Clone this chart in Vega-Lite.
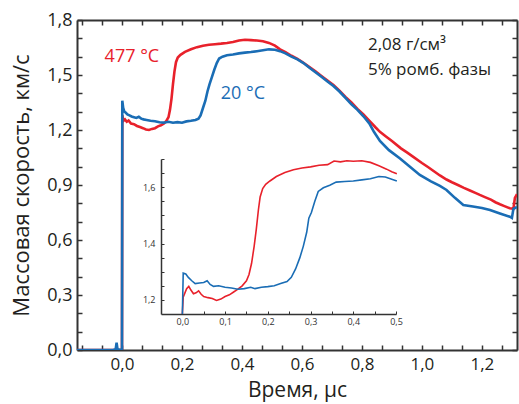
{
  "$schema": "https://vega.github.io/schema/vega-lite/v6.json",
  "width": 440,
  "height": 330,
  "autosize": {"type": "none"},
  "padding": {"left": 77, "top": 20, "right": 2, "bottom": 54},
  "background": "white",
  "config": {"view": {"stroke": null}, "font": "Open Sans"},
  "datasets": {
    "main": [
      {"t": -0.15, "v": 0, "s": "477 °C"}, {"t": -0.003, "v": 0, "s": "477 °C"}, {"t": 0.0, "v": 0, "s": "477 °C"},
      {"t": 0.001, "v": 1.28, "s": "477 °C"}, {"t": 0.005, "v": 1.25, "s": "477 °C"}, {"t": 0.01, "v": 1.258, "s": "477 °C"},
      {"t": 0.016, "v": 1.245, "s": "477 °C"}, {"t": 0.022, "v": 1.252, "s": "477 °C"}, {"t": 0.03, "v": 1.235, "s": "477 °C"},
      {"t": 0.04, "v": 1.232, "s": "477 °C"}, {"t": 0.05, "v": 1.222, "s": "477 °C"}, {"t": 0.06, "v": 1.216, "s": "477 °C"},
      {"t": 0.07, "v": 1.21, "s": "477 °C"}, {"t": 0.08, "v": 1.203, "s": "477 °C"}, {"t": 0.09, "v": 1.2, "s": "477 °C"},
      {"t": 0.1, "v": 1.206, "s": "477 °C"}, {"t": 0.11, "v": 1.21, "s": "477 °C"}, {"t": 0.12, "v": 1.22, "s": "477 °C"},
      {"t": 0.13, "v": 1.226, "s": "477 °C"}, {"t": 0.14, "v": 1.235, "s": "477 °C"}, {"t": 0.148, "v": 1.25, "s": "477 °C"},
      {"t": 0.155, "v": 1.27, "s": "477 °C"}, {"t": 0.16, "v": 1.31, "s": "477 °C"}, {"t": 0.165, "v": 1.37, "s": "477 °C"},
      {"t": 0.17, "v": 1.45, "s": "477 °C"}, {"t": 0.175, "v": 1.52, "s": "477 °C"}, {"t": 0.18, "v": 1.57, "s": "477 °C"},
      {"t": 0.186, "v": 1.595, "s": "477 °C"}, {"t": 0.195, "v": 1.61, "s": "477 °C"}, {"t": 0.21, "v": 1.626, "s": "477 °C"},
      {"t": 0.23, "v": 1.64, "s": "477 °C"}, {"t": 0.25, "v": 1.652, "s": "477 °C"}, {"t": 0.27, "v": 1.66, "s": "477 °C"},
      {"t": 0.29, "v": 1.665, "s": "477 °C"}, {"t": 0.31, "v": 1.668, "s": "477 °C"}, {"t": 0.33, "v": 1.671, "s": "477 °C"},
      {"t": 0.35, "v": 1.675, "s": "477 °C"}, {"t": 0.37, "v": 1.68, "s": "477 °C"}, {"t": 0.39, "v": 1.688, "s": "477 °C"},
      {"t": 0.41, "v": 1.692, "s": "477 °C"}, {"t": 0.43, "v": 1.69, "s": "477 °C"}, {"t": 0.45, "v": 1.688, "s": "477 °C"},
      {"t": 0.47, "v": 1.684, "s": "477 °C"}, {"t": 0.49, "v": 1.675, "s": "477 °C"}, {"t": 0.51, "v": 1.66, "s": "477 °C"},
      {"t": 0.527, "v": 1.64, "s": "477 °C"}, {"t": 0.545, "v": 1.625, "s": "477 °C"}, {"t": 0.565, "v": 1.605, "s": "477 °C"},
      {"t": 0.585, "v": 1.588, "s": "477 °C"}, {"t": 0.605, "v": 1.567, "s": "477 °C"}, {"t": 0.625, "v": 1.543, "s": "477 °C"},
      {"t": 0.645, "v": 1.52, "s": "477 °C"}, {"t": 0.665, "v": 1.495, "s": "477 °C"}, {"t": 0.685, "v": 1.47, "s": "477 °C"},
      {"t": 0.705, "v": 1.445, "s": "477 °C"}, {"t": 0.725, "v": 1.415, "s": "477 °C"}, {"t": 0.745, "v": 1.38, "s": "477 °C"},
      {"t": 0.765, "v": 1.35, "s": "477 °C"}, {"t": 0.785, "v": 1.315, "s": "477 °C"}, {"t": 0.805, "v": 1.285, "s": "477 °C"},
      {"t": 0.825, "v": 1.25, "s": "477 °C"}, {"t": 0.845, "v": 1.215, "s": "477 °C"}, {"t": 0.86, "v": 1.19, "s": "477 °C"},
      {"t": 0.88, "v": 1.165, "s": "477 °C"}, {"t": 0.9, "v": 1.14, "s": "477 °C"}, {"t": 0.93, "v": 1.1, "s": "477 °C"},
      {"t": 0.95, "v": 1.078, "s": "477 °C"}, {"t": 0.97, "v": 1.055, "s": "477 °C"}, {"t": 1.0, "v": 1.02, "s": "477 °C"},
      {"t": 1.02, "v": 0.998, "s": "477 °C"}, {"t": 1.04, "v": 0.975, "s": "477 °C"}, {"t": 1.06, "v": 0.952, "s": "477 °C"},
      {"t": 1.082, "v": 0.93, "s": "477 °C"}, {"t": 1.1, "v": 0.915, "s": "477 °C"}, {"t": 1.12, "v": 0.9, "s": "477 °C"},
      {"t": 1.14, "v": 0.884, "s": "477 °C"}, {"t": 1.16, "v": 0.87, "s": "477 °C"}, {"t": 1.18, "v": 0.856, "s": "477 °C"},
      {"t": 1.193, "v": 0.846, "s": "477 °C"}, {"t": 1.21, "v": 0.834, "s": "477 °C"}, {"t": 1.23, "v": 0.82, "s": "477 °C"},
      {"t": 1.245, "v": 0.806, "s": "477 °C"}, {"t": 1.26, "v": 0.795, "s": "477 °C"}, {"t": 1.275, "v": 0.785, "s": "477 °C"},
      {"t": 1.293, "v": 0.773, "s": "477 °C"}, {"t": 1.305, "v": 0.77, "s": "477 °C"}, {"t": 1.31, "v": 0.83, "s": "477 °C"},
      {"t": 1.317, "v": 0.85, "s": "477 °C"},

      {"t": -0.15, "v": 0, "s": "20 °C"}, {"t": -0.03, "v": 0, "s": "20 °C"}, {"t": -0.021, "v": 0.004, "s": "20 °C"},
      {"t": -0.018, "v": 0.04, "s": "20 °C"}, {"t": -0.015, "v": 0.004, "s": "20 °C"}, {"t": -0.003, "v": 0, "s": "20 °C"},
      {"t": 0.0, "v": 0, "s": "20 °C"}, {"t": 0.001, "v": 1.36, "s": "20 °C"}, {"t": 0.004, "v": 1.32, "s": "20 °C"},
      {"t": 0.008, "v": 1.3, "s": "20 °C"}, {"t": 0.012, "v": 1.295, "s": "20 °C"}, {"t": 0.018, "v": 1.285, "s": "20 °C"},
      {"t": 0.025, "v": 1.28, "s": "20 °C"}, {"t": 0.032, "v": 1.274, "s": "20 °C"}, {"t": 0.04, "v": 1.27, "s": "20 °C"},
      {"t": 0.048, "v": 1.266, "s": "20 °C"}, {"t": 0.056, "v": 1.272, "s": "20 °C"}, {"t": 0.064, "v": 1.262, "s": "20 °C"},
      {"t": 0.072, "v": 1.258, "s": "20 °C"}, {"t": 0.082, "v": 1.255, "s": "20 °C"}, {"t": 0.095, "v": 1.25, "s": "20 °C"},
      {"t": 0.11, "v": 1.248, "s": "20 °C"}, {"t": 0.125, "v": 1.242, "s": "20 °C"}, {"t": 0.14, "v": 1.24, "s": "20 °C"},
      {"t": 0.155, "v": 1.245, "s": "20 °C"}, {"t": 0.17, "v": 1.24, "s": "20 °C"}, {"t": 0.185, "v": 1.243, "s": "20 °C"},
      {"t": 0.2, "v": 1.24, "s": "20 °C"}, {"t": 0.215, "v": 1.247, "s": "20 °C"}, {"t": 0.23, "v": 1.25, "s": "20 °C"},
      {"t": 0.245, "v": 1.255, "s": "20 °C"}, {"t": 0.255, "v": 1.262, "s": "20 °C"}, {"t": 0.262, "v": 1.28, "s": "20 °C"},
      {"t": 0.27, "v": 1.32, "s": "20 °C"}, {"t": 0.278, "v": 1.36, "s": "20 °C"}, {"t": 0.285, "v": 1.41, "s": "20 °C"},
      {"t": 0.292, "v": 1.45, "s": "20 °C"}, {"t": 0.3, "v": 1.49, "s": "20 °C"}, {"t": 0.308, "v": 1.53, "s": "20 °C"},
      {"t": 0.316, "v": 1.565, "s": "20 °C"}, {"t": 0.324, "v": 1.59, "s": "20 °C"}, {"t": 0.335, "v": 1.6, "s": "20 °C"},
      {"t": 0.35, "v": 1.608, "s": "20 °C"}, {"t": 0.37, "v": 1.612, "s": "20 °C"}, {"t": 0.39, "v": 1.618, "s": "20 °C"},
      {"t": 0.41, "v": 1.622, "s": "20 °C"}, {"t": 0.43, "v": 1.625, "s": "20 °C"}, {"t": 0.45, "v": 1.63, "s": "20 °C"},
      {"t": 0.47, "v": 1.635, "s": "20 °C"}, {"t": 0.49, "v": 1.64, "s": "20 °C"}, {"t": 0.51, "v": 1.638, "s": "20 °C"},
      {"t": 0.527, "v": 1.63, "s": "20 °C"}, {"t": 0.545, "v": 1.618, "s": "20 °C"}, {"t": 0.565, "v": 1.6, "s": "20 °C"},
      {"t": 0.585, "v": 1.585, "s": "20 °C"}, {"t": 0.605, "v": 1.565, "s": "20 °C"}, {"t": 0.625, "v": 1.54, "s": "20 °C"},
      {"t": 0.645, "v": 1.515, "s": "20 °C"}, {"t": 0.665, "v": 1.49, "s": "20 °C"}, {"t": 0.685, "v": 1.465, "s": "20 °C"},
      {"t": 0.705, "v": 1.44, "s": "20 °C"}, {"t": 0.725, "v": 1.41, "s": "20 °C"}, {"t": 0.745, "v": 1.375, "s": "20 °C"},
      {"t": 0.765, "v": 1.34, "s": "20 °C"}, {"t": 0.785, "v": 1.31, "s": "20 °C"}, {"t": 0.805, "v": 1.275, "s": "20 °C"},
      {"t": 0.825, "v": 1.235, "s": "20 °C"}, {"t": 0.84, "v": 1.19, "s": "20 °C"}, {"t": 0.86, "v": 1.14, "s": "20 °C"},
      {"t": 0.89, "v": 1.09, "s": "20 °C"}, {"t": 0.927, "v": 1.045, "s": "20 °C"}, {"t": 0.96, "v": 1.0, "s": "20 °C"},
      {"t": 0.993, "v": 0.955, "s": "20 °C"}, {"t": 1.03, "v": 0.92, "s": "20 °C"}, {"t": 1.06, "v": 0.895, "s": "20 °C"},
      {"t": 1.082, "v": 0.873, "s": "20 °C"}, {"t": 1.11, "v": 0.83, "s": "20 °C"}, {"t": 1.138, "v": 0.791, "s": "20 °C"},
      {"t": 1.17, "v": 0.783, "s": "20 °C"}, {"t": 1.2, "v": 0.775, "s": "20 °C"}, {"t": 1.227, "v": 0.764, "s": "20 °C"},
      {"t": 1.26, "v": 0.745, "s": "20 °C"}, {"t": 1.293, "v": 0.727, "s": "20 °C"}, {"t": 1.3, "v": 0.72, "s": "20 °C"},
      {"t": 1.305, "v": 0.77, "s": "20 °C"}, {"t": 1.317, "v": 0.78, "s": "20 °C"}
    ],
    "inset": [
      {"t": 0.0, "v": 1.15, "s": "477 °C"}, {"t": 0.002, "v": 1.21, "s": "477 °C"}, {"t": 0.006, "v": 1.225, "s": "477 °C"},
      {"t": 0.01, "v": 1.24, "s": "477 °C"}, {"t": 0.015, "v": 1.248, "s": "477 °C"}, {"t": 0.02, "v": 1.235, "s": "477 °C"},
      {"t": 0.026, "v": 1.222, "s": "477 °C"}, {"t": 0.032, "v": 1.225, "s": "477 °C"}, {"t": 0.038, "v": 1.232, "s": "477 °C"},
      {"t": 0.044, "v": 1.22, "s": "477 °C"}, {"t": 0.05, "v": 1.212, "s": "477 °C"}, {"t": 0.06, "v": 1.208, "s": "477 °C"},
      {"t": 0.07, "v": 1.205, "s": "477 °C"}, {"t": 0.08, "v": 1.198, "s": "477 °C"}, {"t": 0.09, "v": 1.203, "s": "477 °C"},
      {"t": 0.1, "v": 1.212, "s": "477 °C"}, {"t": 0.11, "v": 1.218, "s": "477 °C"}, {"t": 0.12, "v": 1.228, "s": "477 °C"},
      {"t": 0.13, "v": 1.238, "s": "477 °C"}, {"t": 0.14, "v": 1.25, "s": "477 °C"}, {"t": 0.15, "v": 1.268, "s": "477 °C"},
      {"t": 0.156, "v": 1.29, "s": "477 °C"}, {"t": 0.162, "v": 1.33, "s": "477 °C"}, {"t": 0.168, "v": 1.39, "s": "477 °C"},
      {"t": 0.173, "v": 1.45, "s": "477 °C"}, {"t": 0.178, "v": 1.52, "s": "477 °C"}, {"t": 0.182, "v": 1.565, "s": "477 °C"},
      {"t": 0.188, "v": 1.595, "s": "477 °C"}, {"t": 0.195, "v": 1.61, "s": "477 °C"}, {"t": 0.205, "v": 1.622, "s": "477 °C"},
      {"t": 0.22, "v": 1.638, "s": "477 °C"}, {"t": 0.24, "v": 1.652, "s": "477 °C"}, {"t": 0.26, "v": 1.662, "s": "477 °C"},
      {"t": 0.28, "v": 1.668, "s": "477 °C"}, {"t": 0.3, "v": 1.672, "s": "477 °C"}, {"t": 0.32, "v": 1.678, "s": "477 °C"},
      {"t": 0.34, "v": 1.68, "s": "477 °C"}, {"t": 0.355, "v": 1.693, "s": "477 °C"}, {"t": 0.37, "v": 1.69, "s": "477 °C"},
      {"t": 0.385, "v": 1.694, "s": "477 °C"}, {"t": 0.4, "v": 1.692, "s": "477 °C"}, {"t": 0.42, "v": 1.694, "s": "477 °C"},
      {"t": 0.44, "v": 1.688, "s": "477 °C"}, {"t": 0.46, "v": 1.676, "s": "477 °C"}, {"t": 0.478, "v": 1.664, "s": "477 °C"},
      {"t": 0.49, "v": 1.655, "s": "477 °C"}, {"t": 0.502, "v": 1.648, "s": "477 °C"},

      {"t": 0.0, "v": 1.15, "s": "20 °C"}, {"t": 0.002, "v": 1.295, "s": "20 °C"}, {"t": 0.008, "v": 1.292, "s": "20 °C"},
      {"t": 0.014, "v": 1.28, "s": "20 °C"}, {"t": 0.022, "v": 1.268, "s": "20 °C"}, {"t": 0.03, "v": 1.258, "s": "20 °C"},
      {"t": 0.04, "v": 1.26, "s": "20 °C"}, {"t": 0.05, "v": 1.262, "s": "20 °C"}, {"t": 0.058, "v": 1.268, "s": "20 °C"},
      {"t": 0.065, "v": 1.255, "s": "20 °C"}, {"t": 0.073, "v": 1.248, "s": "20 °C"}, {"t": 0.085, "v": 1.25, "s": "20 °C"},
      {"t": 0.1, "v": 1.245, "s": "20 °C"}, {"t": 0.115, "v": 1.242, "s": "20 °C"}, {"t": 0.13, "v": 1.238, "s": "20 °C"},
      {"t": 0.145, "v": 1.24, "s": "20 °C"}, {"t": 0.16, "v": 1.245, "s": "20 °C"}, {"t": 0.17, "v": 1.24, "s": "20 °C"},
      {"t": 0.185, "v": 1.245, "s": "20 °C"}, {"t": 0.2, "v": 1.247, "s": "20 °C"}, {"t": 0.215, "v": 1.25, "s": "20 °C"},
      {"t": 0.23, "v": 1.258, "s": "20 °C"}, {"t": 0.245, "v": 1.265, "s": "20 °C"}, {"t": 0.255, "v": 1.28, "s": "20 °C"},
      {"t": 0.265, "v": 1.31, "s": "20 °C"}, {"t": 0.275, "v": 1.35, "s": "20 °C"}, {"t": 0.283, "v": 1.39, "s": "20 °C"},
      {"t": 0.291, "v": 1.44, "s": "20 °C"}, {"t": 0.296, "v": 1.49, "s": "20 °C"}, {"t": 0.302, "v": 1.51, "s": "20 °C"},
      {"t": 0.31, "v": 1.55, "s": "20 °C"}, {"t": 0.318, "v": 1.585, "s": "20 °C"}, {"t": 0.33, "v": 1.598, "s": "20 °C"},
      {"t": 0.345, "v": 1.607, "s": "20 °C"}, {"t": 0.36, "v": 1.618, "s": "20 °C"}, {"t": 0.38, "v": 1.62, "s": "20 °C"},
      {"t": 0.4, "v": 1.622, "s": "20 °C"}, {"t": 0.42, "v": 1.626, "s": "20 °C"}, {"t": 0.44, "v": 1.63, "s": "20 °C"},
      {"t": 0.46, "v": 1.638, "s": "20 °C"}, {"t": 0.475, "v": 1.636, "s": "20 °C"}, {"t": 0.49, "v": 1.628, "s": "20 °C"},
      {"t": 0.502, "v": 1.622, "s": "20 °C"}
    ],
    "curveLabels": [
      {"t": 0.033, "v": 1.598, "s": "477 °C", "label": "477 °C"},
      {"t": 0.403, "v": 1.397, "s": "20 °C", "label": "20 °C"}
    ],
    "notes": [
      {"t": 0.82, "v": 1.664, "s": "note", "label": "2,08 г/см³"},
      {"t": 0.82, "v": 1.527, "s": "note", "label": "5% ромб. фазы"}
    ]
  },
  "layer": [
    {
      "encoding": {
        "x": {"field": "t", "type": "quantitative",
          "scale": {"domain": [-0.15, 1.317], "nice": false, "zero": false},
          "axis": {"orient": "bottom", "title": "Время, μс", "grid": false,
            "values": [-0.13333, -0.06667, 0, 0.06667, 0.13333, 0.2, 0.26667, 0.33333, 0.4, 0.46667, 0.53333, 0.6, 0.66667, 0.73333, 0.8, 0.86667, 0.93333, 1.0, 1.06667, 1.13333, 1.2, 1.26667],
            "labelExpr": "abs(datum.value*5-round(datum.value*5))<0.01 ? replace(format(datum.value,'.1f'),'.',',') : ''",
            "labelOverlap": false, "labelFlush": false,
            "tickSize": -5, "tickWidth": 1.5, "tickColor": "#333333",
            "domainColor": "#333333", "domainWidth": 2,
            "labelFont": "Open Sans", "labelFontSize": 17, "labelColor": "#231f20", "labelPadding": 11,
            "titleFont": "Open Sans", "titleFontSize": 21, "titleFontWeight": "normal", "titleColor": "#231f20", "titlePadding": 7}},
        "y": {"field": "v", "type": "quantitative",
          "scale": {"domain": [0, 1.8], "nice": false, "zero": false},
          "axis": {"orient": "left", "title": "Массовая скорость, км/с", "grid": false,
            "values": [0, 0.1, 0.2, 0.3, 0.4, 0.5, 0.6, 0.7, 0.8, 0.9, 1.0, 1.1, 1.2, 1.3, 1.4, 1.5, 1.6, 1.7, 1.8],
            "labelExpr": "abs(datum.value/0.3-round(datum.value/0.3))<0.01 ? replace(format(datum.value,'.1f'),'.',',') : ''",
            "labelOverlap": false, "labelFlush": false,
            "tickSize": -5, "tickWidth": 1.5, "tickColor": "#333333",
            "domainColor": "#333333", "domainWidth": 2,
            "labelFont": "Open Sans", "labelFontSize": 18, "labelColor": "#231f20", "labelPadding": 10,
            "titleFont": "Open Sans", "titleFontSize": 22, "titleFontWeight": "normal", "titleColor": "#231f20", "titlePadding": 13}},
        "color": {"field": "s", "type": "nominal", "legend": null,
          "scale": {"domain": ["477 °C", "20 °C", "note"], "range": ["#e8212b", "#1a6db5", "#231f20"]}}
      },
      "layer": [
        {"data": {"name": "main"}, "transform": [{"filter": "datum.s === '477 °C'"}],
         "mark": {"type": "line", "strokeWidth": 2.6, "clip": true}},
        {"data": {"name": "main"}, "transform": [{"filter": "datum.s === '20 °C'"}],
         "mark": {"type": "line", "strokeWidth": 2.6, "clip": true}},
        {"data": {"name": "curveLabels"},
         "mark": {"type": "text", "align": "center", "baseline": "middle", "font": "Open Sans", "fontSize": 18},
         "encoding": {"text": {"field": "label"}}},
        {"data": {"name": "notes"},
         "mark": {"type": "text", "align": "left", "baseline": "middle", "font": "Open Sans", "fontSize": 17},
         "encoding": {"text": {"field": "label"}}}
      ]
    },
    {
      "data": {"name": "main"},
      "mark": {"type": "line", "opacity": 0},
      "encoding": {
        "x": {"field": "t", "type": "quantitative",
          "scale": {"domain": [-0.15, 1.317], "nice": false, "zero": false},
          "axis": {"orient": "top", "title": null, "grid": false, "labels": false,
            "values": [-0.13333, -0.06667, 0, 0.06667, 0.13333, 0.2, 0.26667, 0.33333, 0.4, 0.46667, 0.53333, 0.6, 0.66667, 0.73333, 0.8, 0.86667, 0.93333, 1.0, 1.06667, 1.13333, 1.2, 1.26667],
            "tickSize": -5, "tickWidth": 1.5, "tickColor": "#333333",
            "domainColor": "#333333", "domainWidth": 2}},
        "y": {"field": "v", "type": "quantitative",
          "scale": {"domain": [0, 1.8], "nice": false, "zero": false},
          "axis": {"orient": "right", "title": null, "grid": false, "labels": false,
            "values": [0, 0.1, 0.2, 0.3, 0.4, 0.5, 0.6, 0.7, 0.8, 0.9, 1.0, 1.1, 1.2, 1.3, 1.4, 1.5, 1.6, 1.7, 1.8],
            "tickSize": -5, "tickWidth": 1.5, "tickColor": "#333333",
            "domainColor": "#333333", "domainWidth": 2}}
      }
    },
    {
      "data": {"name": "inset"},
      "encoding": {
        "x": {"field": "t", "type": "quantitative",
          "scale": {"domain": [-0.05, 0.5], "range": [84, 319], "nice": false, "zero": false},
          "axis": {"orient": "bottom", "offset": -36, "title": null, "grid": false,
            "values": [0, 0.05, 0.1, 0.15, 0.2, 0.25, 0.3, 0.35, 0.4, 0.45, 0.5],
            "labelExpr": "abs(datum.value*10-round(datum.value*10))<0.01 ? replace(format(datum.value,'.1f'),'.',',') : ''",
            "labelOverlap": false, "labelFlush": false,
            "tickSize": -3, "tickWidth": 1, "tickColor": "#333333",
            "domainColor": "#333333", "domainWidth": 1.5,
            "labelFont": "Open Sans", "labelFontSize": 9, "labelColor": "#333333", "labelPadding": 6}},
        "y": {"field": "v", "type": "quantitative",
          "scale": {"domain": [1.15, 1.7], "range": [294, 139], "nice": false, "zero": false},
          "axis": {"orient": "left", "offset": -84, "title": null, "grid": false,
            "values": [1.2, 1.25, 1.3, 1.35, 1.4, 1.45, 1.5, 1.55, 1.6, 1.65, 1.7],
            "labelExpr": "abs(datum.value*5-round(datum.value*5))<0.01 ? replace(format(datum.value,'.1f'),'.',',') : ''",
            "labelOverlap": false, "labelFlush": false,
            "tickSize": -3, "tickWidth": 1, "tickColor": "#333333",
            "domainColor": "#333333", "domainWidth": 1.5,
            "labelFont": "Open Sans", "labelFontSize": 9, "labelColor": "#333333", "labelPadding": 9}},
        "color": {"field": "s", "type": "nominal", "legend": null,
          "scale": {"domain": ["477 °C", "20 °C"], "range": ["#e8212b", "#1a6db5"]}}
      },
      "layer": [
        {"transform": [{"filter": "datum.s === '477 °C'"}], "mark": {"type": "line", "strokeWidth": 1.6}},
        {"transform": [{"filter": "datum.s === '20 °C'"}], "mark": {"type": "line", "strokeWidth": 1.6}}
      ]
    }
  ],
  "resolve": {"scale": {"x": "independent", "y": "independent", "color": "independent"}, "axis": {"x": "independent", "y": "independent"}}
}
